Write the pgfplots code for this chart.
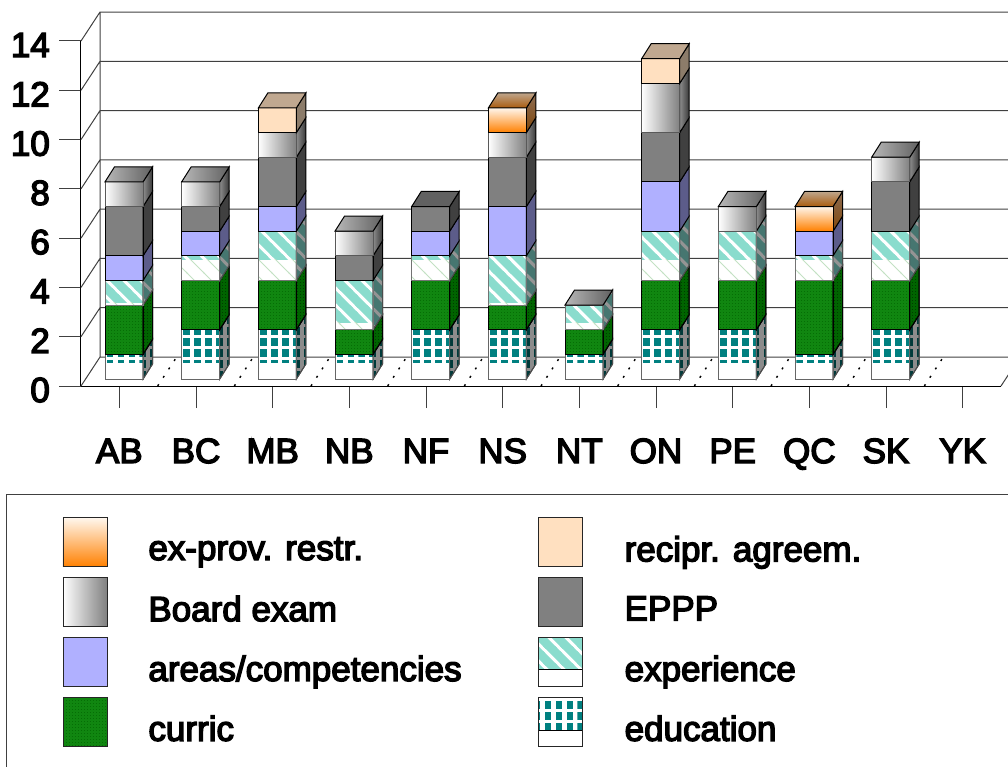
\documentclass[border=0pt]{standalone}
\usepackage{fontspec}
\setmainfont{Liberation Sans}[FakeBold=4]
\usepackage{pgfplots}
\usepackage{pgfplotstable}
\pgfplotsset{compat=1.18}
\usetikzlibrary{patterns}
\definecolor{cteal}{RGB}{138,220,205}
\definecolor{cdteal}{RGB}{0,128,128}
\definecolor{cgreen}{RGB}{16,134,16}
\definecolor{cdgreen}{RGB}{0,100,0}
\definecolor{careas}{RGB}{176,176,255}
\definecolor{crec}{RGB}{255,224,192}
\definecolor{cgray}{RGB}{128,128,128}
\definecolor{corange}{RGB}{255,128,0}
\definecolor{cpale}{RGB}{255,246,236}
% stripes running down to the right, period 17 (cell overlaps its neighbours, so no seams)
\pgfdeclarepatternformonly{texstripes}{\pgfqpoint{-1pt}{-1pt}}{\pgfqpoint{18pt}{18pt}}{\pgfqpoint{17pt}{17pt}}{%
  \pgfsetlinewidth{8.5pt}
  \pgfpathmoveto{\pgfqpoint{-4pt}{10pt}}\pgfpathlineto{\pgfqpoint{10pt}{-4pt}}
  \pgfpathmoveto{\pgfqpoint{4pt}{19pt}}\pgfpathlineto{\pgfqpoint{19pt}{4pt}}
  \pgfpathmoveto{\pgfqpoint{16pt}{24pt}}\pgfpathlineto{\pgfqpoint{24pt}{16pt}}
  \pgfusepath{stroke}}
\pgfdeclarepatternformonly{texthin}{\pgfqpoint{-1pt}{-1pt}}{\pgfqpoint{18pt}{18pt}}{\pgfqpoint{17pt}{17pt}}{%
  \pgfsetlinewidth{0.8pt}
  \pgfpathmoveto{\pgfqpoint{-1pt}{18pt}}\pgfpathlineto{\pgfqpoint{18pt}{-1pt}}
  \pgfusepath{stroke}}
\pgfdeclarepatternformonly{texsquares}{\pgfqpoint{-3.1pt}{0pt}}{\pgfqpoint{7.85pt}{11pt}}{\pgfqpoint{10.95pt}{11pt}}{%
  \pgfpathrectangle{\pgfqpoint{-2.9pt}{2.2pt}}{\pgfqpoint{6.8pt}{7.6pt}}
  \pgfusepath{fill}}
\pgfdeclarepatternformonly{texdots}{\pgfqpoint{0pt}{0pt}}{\pgfqpoint{3pt}{3pt}}{\pgfqpoint{3pt}{3pt}}{%
  \pgfpathrectangle{\pgfqpoint{0pt}{0pt}}{\pgfqpoint{1.2pt}{1.2pt}}
  \pgfusepath{fill}}
\tikzset{
  fedu/.style={fill=white},
  fcur/.style={fill=cgreen,postaction={pattern=texdots,pattern color=cdgreen!70!cgreen}},
  fexp/.style={fill=white},
  fare/.style={fill=careas},
  fepp/.style={fill=cgray},
  fboa/.style={fill=black!25},
  frec/.style={fill=crec},
  fexr/.style={fill=corange!60},
  %
  sideedu/.style={fill=black!45,postaction={pattern=texsquares,pattern color=cdteal!45!black},draw=black!70},
  sidecur/.style={fill=cdgreen,postaction={pattern=texdots,pattern color=cdgreen!60!black},draw=black},
  sideexp/.style={fill=black!42,postaction={pattern=texstripes,pattern color={rgb,255:red,70;green,118;blue,112}},draw=black!70},
  sideare/.style={fill={rgb,255:red,92;green,92;blue,138},draw=black},
  sideepp/.style={fill=black!75,draw=black},
  sideboa/.style={left color=black!45,right color=black!78,draw=black},
  siderec/.style={fill={rgb,255:red,140;green,124;blue,106},draw=black},
  sideexr/.style={top color={rgb,255:red,140;green,108;blue,82},bottom color={rgb,255:red,130;green,72;blue,12},draw=black},
  %
  topcur/.style={fill=cdgreen,draw=black},
  topexp/.style={fill=cteal,draw=black},
  topedu/.style={fill=cdteal,draw=black},
  topare/.style={fill=careas!60!black,draw=black},
  topepp/.style={fill=black!62,draw=black},
  topboa/.style={left color=black!28,right color=black!62,draw=black},
  toprec/.style={fill={rgb,255:red,192;green,168;blue,144},draw=black},
  topexr/.style={top color={rgb,255:red,190;green,165;blue,140},bottom color={rgb,255:red,170;green,92;blue,14},draw=black},
  %
  lnedu/.style={draw=black!60,line width=1pt},
  lncur/.style={draw=black,line width=1pt},
  lnexp/.style={draw=black!55,line width=1pt},
  lnare/.style={draw=black,line width=1pt},
  lnepp/.style={draw=black,line width=1pt},
  lnboa/.style={left color=white,right color=cgray,draw=black!65,line width=1pt},
  lnrec/.style={draw=black,line width=1pt},
  lnexr/.style={top color=cpale,bottom color=corange,draw=black,line width=1pt},
  bshift/.style={xshift=4.7pt,yshift=7pt},
  legbox/.style={line width=0.9pt,draw=black!85},
}
\newcommand{\bigf}{\fontsize{35}{40}\selectfont}
\newcommand{\lt}[1]{\raisebox{19pt}{#1}}
\pgfplotstableread{
k edu cur exp are epp boa rec exr tl
0 1 2 1 1 2 1 0 0 3.12
1 2 2 1 1 1 1 0 0 4.83
2 2 2 2 1 2 1 1 0 4.83
3 1 1 2 0 1 1 0 0 2.31
4 2 2 1 1 1 0 0 0 4.83
5 2 1 2 2 2 1 0 1 3.12
6 1 1 1 0 0 0 0 0 2.31
7 2 2 2 2 2 2 1 0 4.83
8 2 2 2 0 0 1 0 0 4.83
9 1 3 1 1 0 0 0 1 4.83
10 2 2 2 0 2 1 0 0 4.83
11 0 0 0 0 0 0 0 0 0
}\data
\begin{document}
\begin{tikzpicture}
\path[use as bounding box] (0pt,0pt) rectangle (1008pt,766pt);
\begin{axis}[
  at={(81pt,380pt)},anchor=south west,scale only axis,
  width=920pt,height=345pt,
  xmin=-0.5,xmax=11.5,ymin=0,ymax=14,
  clip=false,
  ybar stacked,bar width=38pt,reverse stacked plots=false,
  axis x line=bottom,axis y line=left,
  axis line style={-,black,line width=1pt},
  xtick={0,...,11},
  xticklabels={AB,BC,MB,NB,NF,NS,NT,ON,PE,QC,SK,YK},
  ytick={0,2,...,14},
  tick align=outside,major tick length=22pt,
  tick style={black!75,line width=1pt},
  /pgf/number format/assume math mode=true,
  x tick label style={font=\bigf,inner sep=0pt,yshift=-55pt,anchor=base,text height=0pt},
  y tick label style={font=\bigf,inner sep=0pt,xshift=-9pt,yshift=-4pt},
  legend columns=2,
  legend cell align=left,
  legend style={at={(-0.0815,-0.313)},anchor=north west,draw=black!75,line width=1pt,
    font=\bigf,inner xsep=56pt,inner ysep=23pt,row sep=-6.6pt,
    /tikz/column 1/.style={column sep=39pt},
    /tikz/column 2/.style={column sep=74pt},
    /tikz/column 3/.style={column sep=40pt},
  },
]
% walls and floor
\addplot[forget plot,stack plots=false,sharp plot,draw=black!75,line width=1pt] coordinates {
 (-0.5,0)(-0.252,1.176)(11.748,1.176)

 (-0.5,2)(-0.252,3.176)(11.748,3.176)

 (-0.5,4)(-0.252,5.176)(11.748,5.176)

 (-0.5,6)(-0.252,7.176)(11.748,7.176)

 (-0.5,8)(-0.252,9.176)(11.748,9.176)

 (-0.5,10)(-0.252,11.176)(11.748,11.176)

 (-0.5,12)(-0.252,13.176)(11.748,13.176)

 (-0.5,14)(-0.252,15.176)(11.748,15.176)

 (-0.252,1.176)(-0.252,15.176)

 (11.5,0)(11.748,1.176)
};
\addplot[forget plot,stack plots=false,sharp plot,draw=black,line width=1.4pt,dash pattern=on 2pt off 8pt] coordinates {
 (0.5,0)(0.748,1.176)

 (1.5,0)(1.748,1.176)

 (2.5,0)(2.748,1.176)

 (3.5,0)(3.748,1.176)

 (4.5,0)(4.748,1.176)

 (5.5,0)(5.748,1.176)

 (6.5,0)(6.748,1.176)

 (7.5,0)(7.748,1.176)

 (8.5,0)(8.748,1.176)

 (9.5,0)(9.748,1.176)

 (10.5,0)(10.748,1.176)
};
% the stacked series
\addplot[forget plot,fedu,draw=none,bshift] table[x=k,y=edu]{\data};
\addplot[forget plot,fcur,draw=none,bshift] table[x=k,y=cur]{\data};
\addplot[forget plot,fexp,draw=none,bshift] table[x=k,y=exp]{\data};
\addplot[forget plot,fare,draw=none,bshift] table[x=k,y=are]{\data};
\addplot[forget plot,fepp,draw=none,bshift] table[x=k,y=epp]{\data};
\addplot[forget plot,fboa,draw=none,bshift] table[x=k,y=boa]{\data};
\addplot[forget plot,frec,draw=none,bshift] table[x=k,y=rec]{\data};
\addplot[forget plot,fexr,draw=none,bshift] table[x=k,y=exr]{\data};
% textures, sides, outlines, tops
\pgfplotsforeachungrouped \rr in {0,...,10}{%
  \pgfmathsetmacro\xL{\rr-0.248}%
  \pgfmathsetmacro\xR{\rr+0.248}%
  \pgfmathsetmacro\xLd{\rr-0.248+0.124}%
  \pgfmathsetmacro\xRd{\rr+0.248+0.124}%
  \pgfplotstablegetelem{\rr}{edu}\of\data\let\vedu\pgfplotsretval
  \pgfplotstablegetelem{\rr}{cur}\of\data\let\vcur\pgfplotsretval
  \pgfplotstablegetelem{\rr}{exp}\of\data\let\vexp\pgfplotsretval
  \pgfplotstablegetelem{\rr}{tl}\of\data\let\vtl\pgfplotsretval
  \pgfmathsetmacro\exa{\vedu+\vcur}%
  \pgfmathsetmacro\exb{\vedu+\vcur+\vexp}%
  \edef\temp{\noexpand\addplot[forget plot,stack plots=false,sharp plot,bshift,draw=none,pattern=texsquares,pattern color=cdteal]
     coordinates {(\xL,0.65)(\xR,0.65)(\xR,\vedu)(\xL,\vedu)} --cycle;}\temp
  \edef\temp{\noexpand\addplot[forget plot,stack plots=false,sharp plot,bshift,draw=none,pattern=texstripes,pattern color=cteal]
     coordinates {(\xL,\vtl)(\xR,\vtl)(\xR,\exb)(\xL,\exb)} --cycle;}\temp
  \edef\temp{\noexpand\addplot[forget plot,stack plots=false,sharp plot,bshift,draw=none,pattern=texthin,pattern color=cgreen!25]
     coordinates {(\xL,\exa)(\xR,\exa)(\xR,\vtl)(\xL,\vtl)} --cycle;}\temp
  \def\cum{0}%
  \pgfplotsforeachungrouped \cc in {edu,cur,exp,are,epp,boa,rec,exr}{%
    \pgfplotstablegetelem{\rr}{\cc}\of\data\let\vv\pgfplotsretval
    \pgfmathsetmacro\cumn{\cum+\vv}%
    \pgfmathsetmacro\ya{\cum+0.609}%
    \pgfmathsetmacro\yb{\cumn+0.609}%
    \ifdim\vv pt>0pt
      \edef\temp{\noexpand\addplot[forget plot,stack plots=false,sharp plot,bshift,side\cc,line width=1pt]
        coordinates {(\xR,\cum)(\xRd,\ya)(\xRd,\yb)(\xR,\cumn)} --cycle;}\temp
      \edef\temp{\noexpand\addplot[forget plot,stack plots=false,sharp plot,bshift,ln\cc]
        coordinates {(\xL,\cum)(\xR,\cum)(\xR,\cumn)(\xL,\cumn)} --cycle;}\temp
      \edef\lastc{\cc}%
    \fi
    \global\let\cum\cumn
  }%
  \ifnum\rr=6 \def\lastc{boa}\fi
  \pgfmathsetmacro\yT{\cum+0.609}%
  \edef\temp{\noexpand\addplot[forget plot,stack plots=false,sharp plot,bshift,top\lastc,line width=1pt]
    coordinates {(\xL,\cum)(\xLd,\yT)(\xRd,\yT)(\xR,\cum)} --cycle;}\temp
}
% legend
\addlegendimage{legend image code/.code={\path[top color=cpale,bottom color=corange,legbox] (0pt,-8pt) rectangle (44pt,41pt);}}
\addlegendentry{\lt{ex-prov. restr.}}
\addlegendimage{legend image code/.code={\path[frec,legbox] (0pt,-8pt) rectangle (44pt,41pt);}}
\addlegendentry{\lt{recipr. agreem.}\rule{260pt}{0pt}}
\addlegendimage{legend image code/.code={\path[left color=white,right color=cgray,legbox] (0pt,-8pt) rectangle (44pt,41pt);}}
\addlegendentry{\lt{Board exam}}
\addlegendimage{legend image code/.code={\path[fepp,legbox] (0pt,-8pt) rectangle (44pt,41pt);}}
\addlegendentry{\lt{EPPP}}
\addlegendimage{legend image code/.code={\path[fare,legbox] (0pt,-8pt) rectangle (44pt,41pt);}}
\addlegendentry{\lt{areas/competencies}}
\addlegendimage{legend image code/.code={\fill[white] (0pt,-8pt) rectangle (44pt,41pt);\fill[pattern=texstripes,pattern color=cteal] (0pt,9pt) rectangle (44pt,41pt);\draw[legbox] (0pt,-8pt) rectangle (44pt,41pt);}}
\addlegendentry{\lt{experience}}
\addlegendimage{legend image code/.code={\path[fcur,legbox] (0pt,-8pt) rectangle (44pt,41pt);}}
\addlegendentry{\lt{curric}}
\addlegendimage{legend image code/.code={\fill[white] (0pt,-8pt) rectangle (44pt,41pt);\fill[pattern=texsquares,pattern color=cdteal] (0pt,8pt) rectangle (44pt,41pt);\draw[legbox] (0pt,-8pt) rectangle (44pt,41pt);}}
\addlegendentry{\lt{education}}
\end{axis}
\end{tikzpicture}
\end{document}
